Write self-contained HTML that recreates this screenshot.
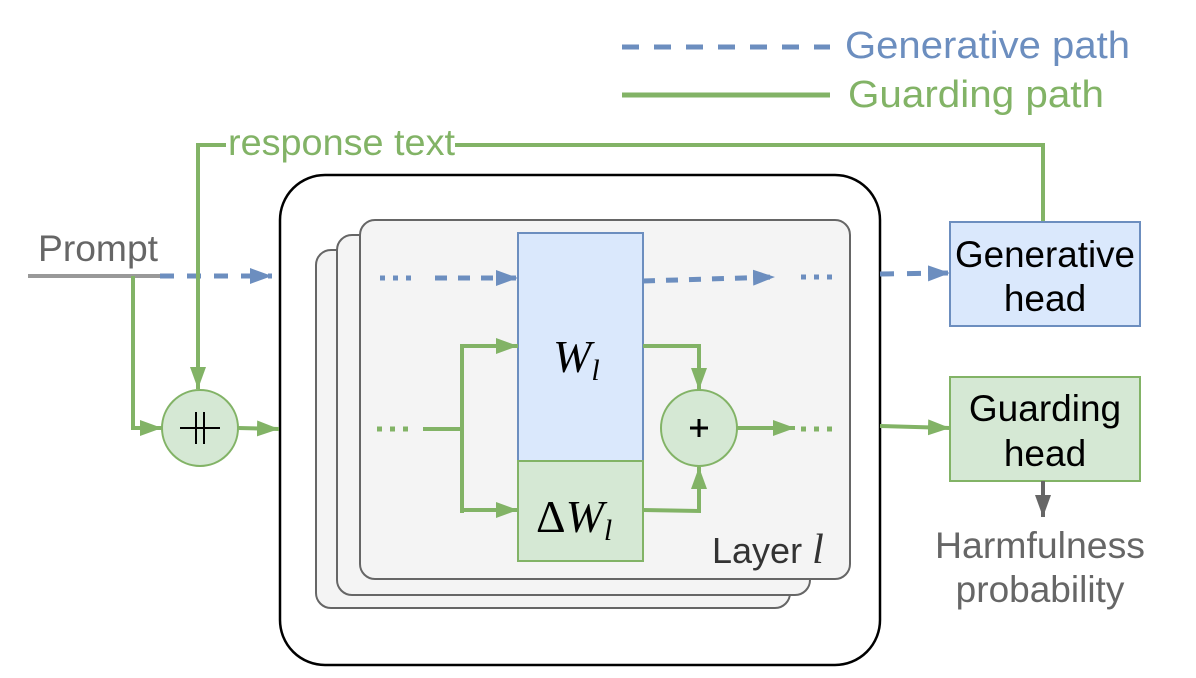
<!DOCTYPE html>
<html><head><meta charset="utf-8"><style>html,body{margin:0;padding:0;background:#fff}svg{display:block}</style></head>
<body>
<svg width="1196" height="678" viewBox="0 0 1196 678" xmlns="http://www.w3.org/2000/svg" font-family="Liberation Sans, Arial, sans-serif">
<defs>
<marker id="ag" markerWidth="22" markerHeight="16" refX="22" refY="8" orient="auto" markerUnits="userSpaceOnUse"><path d="M0,0 L22,8 L0,16 z" fill="#82b366"/></marker>
<marker id="ab2" markerWidth="22" markerHeight="16" refX="22" refY="8" orient="auto" markerUnits="userSpaceOnUse"><path d="M0,0 L22,8 L0,16 z" fill="#6c8ebf"/></marker>
<marker id="agr" markerWidth="22" markerHeight="16" refX="22" refY="8" orient="auto" markerUnits="userSpaceOnUse"><path d="M0,0 L22,8 L0,16 z" fill="#666"/></marker>
</defs>
<!-- legend -->
<line x1="622" y1="47" x2="830" y2="47" stroke="#6c8ebf" stroke-width="5" stroke-dasharray="17,15"/>
<text x="845" y="58" font-size="38" fill="#6c8ebf" textLength="285" lengthAdjust="spacingAndGlyphs">Generative path</text>
<line x1="622" y1="95" x2="830" y2="95" stroke="#82b366" stroke-width="5"/>
<text x="848" y="107" font-size="38" fill="#82b366" textLength="256" lengthAdjust="spacingAndGlyphs">Guarding path</text>

<!-- outer box -->
<rect x="280" y="175" width="600" height="490" rx="45" fill="#fff" stroke="#000" stroke-width="2.5"/>
<!-- cards -->
<rect x="316" y="250" width="474" height="358" rx="15" fill="#f4f4f4" stroke="#666" stroke-width="2"/>
<rect x="337" y="235" width="473" height="360" rx="15" fill="#f4f4f4" stroke="#666" stroke-width="2"/>
<rect x="360" y="220" width="490" height="359" rx="15" fill="#f4f4f4" stroke="#666" stroke-width="2"/>

<!-- W boxes -->
<rect x="518" y="233" width="125" height="228" fill="#dae8fc" stroke="#6c8ebf" stroke-width="2"/>
<rect x="518" y="461" width="125" height="100" fill="#d5e8d4" stroke="#82b366" stroke-width="2"/>
<text x="553" y="372" font-size="46" font-style="italic" font-family="Liberation Serif, serif">W<tspan font-size="30" dy="8">l</tspan></text>
<text x="536" y="532" font-size="46" font-family="Liberation Serif, serif">Δ<tspan font-style="italic">W</tspan><tspan font-style="italic" font-size="30" dy="8">l</tspan></text>
<text x="712" y="563" font-size="36" fill="#333">Layer <tspan font-style="italic" font-family="Liberation Serif, serif" font-size="42">l</tspan></text>

<!-- blue paths inside -->
<line x1="380" y1="278" x2="412" y2="278" stroke="#6c8ebf" stroke-width="5" stroke-dasharray="5,8"/>
<line x1="435" y1="278" x2="518" y2="278" stroke="#6c8ebf" stroke-width="5" stroke-dasharray="12,11" marker-end="url(#ab2)"/>
<line x1="643" y1="281" x2="775" y2="277" stroke="#6c8ebf" stroke-width="5" stroke-dasharray="12,11" marker-end="url(#ab2)"/>
<line x1="801" y1="277" x2="833" y2="277" stroke="#6c8ebf" stroke-width="5" stroke-dasharray="5,8"/>

<!-- green paths inside -->
<line x1="377" y1="429" x2="409" y2="429" stroke="#82b366" stroke-width="5" stroke-dasharray="5,8"/>
<polyline points="423,429 462,429" fill="none" stroke="#82b366" stroke-width="4"/>
<polyline points="462,513 462,346 518,346" fill="none" stroke="#82b366" stroke-width="4" marker-end="url(#ag)"/>
<polyline points="462,429 462,510 518,510" fill="none" stroke="#82b366" stroke-width="4" marker-end="url(#ag)"/>
<polyline points="643,346 699,346 699,390" fill="none" stroke="#82b366" stroke-width="4" marker-end="url(#ag)"/>
<polyline points="643,510 699,511 699,467" fill="none" stroke="#82b366" stroke-width="4" marker-end="url(#ag)"/>
<circle cx="699" cy="428" r="38" fill="#d5e8d4" stroke="#82b366" stroke-width="2"/>
<line x1="690" y1="428" x2="708" y2="428" stroke="#000" stroke-width="3"/>
<line x1="699" y1="419" x2="699" y2="437" stroke="#000" stroke-width="3"/>
<line x1="737" y1="428" x2="795" y2="428" stroke="#82b366" stroke-width="4" marker-end="url(#ag)"/>
<line x1="801" y1="429" x2="833" y2="429" stroke="#82b366" stroke-width="5" stroke-dasharray="5,8"/>

<!-- prompt -->
<text x="38" y="261" font-size="37" fill="#666" textLength="120" lengthAdjust="spacingAndGlyphs">Prompt</text>
<line x1="28" y1="276" x2="160" y2="276" stroke="#999" stroke-width="4"/>
<line x1="160" y1="276" x2="272" y2="276" stroke="#6c8ebf" stroke-width="5" stroke-dasharray="14,13" marker-end="url(#ab2)"/>
<polyline points="133,276 133,428 162,428" fill="none" stroke="#82b366" stroke-width="4" marker-end="url(#ag)"/>
<!-- response text -->
<polyline points="1043,222 1043,145 455,145" fill="none" stroke="#82b366" stroke-width="4"/>
<polyline points="226,145 198,145 198,389" fill="none" stroke="#82b366" stroke-width="4" marker-end="url(#ag)"/>
<text x="228" y="155" font-size="37" fill="#82b366" textLength="227" lengthAdjust="spacingAndGlyphs">response text</text>
<circle cx="200" cy="428" r="38" fill="#d5e8d4" stroke="#82b366" stroke-width="2"/>
<line x1="180" y1="428" x2="220" y2="428" stroke="#000" stroke-width="2"/>
<line x1="196" y1="412" x2="196" y2="444" stroke="#000" stroke-width="2"/>
<line x1="204" y1="412" x2="204" y2="444" stroke="#000" stroke-width="2"/>
<line x1="238" y1="428" x2="279" y2="429" stroke="#82b366" stroke-width="4" marker-end="url(#ag)"/>

<!-- right side -->
<line x1="880" y1="274" x2="950" y2="273" stroke="#6c8ebf" stroke-width="5" stroke-dasharray="14,13" marker-end="url(#ab2)"/>
<rect x="950" y="222" width="190" height="104" fill="#dae8fc" stroke="#6c8ebf" stroke-width="2"/>
<text x="1045" y="267" font-size="37" text-anchor="middle" textLength="180" lengthAdjust="spacingAndGlyphs">Generative</text>
<text x="1045" y="311" font-size="37" text-anchor="middle">head</text>
<line x1="880" y1="426" x2="950" y2="428" stroke="#82b366" stroke-width="4" marker-end="url(#ag)"/>
<rect x="950" y="377" width="190" height="104" fill="#d5e8d4" stroke="#82b366" stroke-width="2"/>
<text x="1045" y="421" font-size="37" text-anchor="middle">Guarding</text>
<text x="1045" y="466" font-size="37" text-anchor="middle">head</text>
<line x1="1043" y1="481" x2="1043" y2="517" stroke="#666" stroke-width="4" marker-end="url(#agr)"/>
<text x="1040" y="558" font-size="37" fill="#666" text-anchor="middle" textLength="210" lengthAdjust="spacingAndGlyphs">Harmfulness</text>
<text x="1040" y="602" font-size="37" fill="#666" text-anchor="middle">probability</text>
</svg>
</body></html>
